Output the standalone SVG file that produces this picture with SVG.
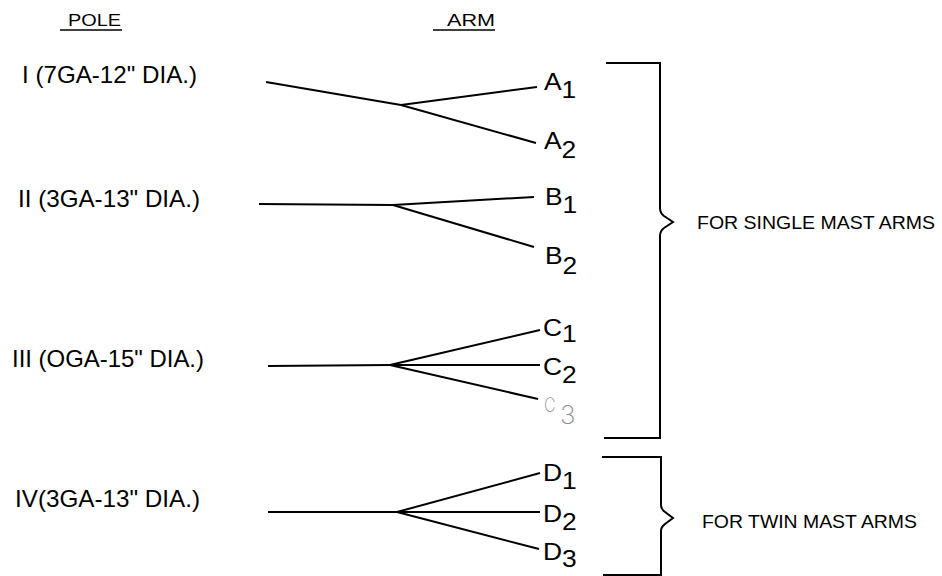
<svg xmlns="http://www.w3.org/2000/svg" width="942" height="576" viewBox="0 0 942 576">
<style>
.t{font-family:"Liberation Sans",Arial,sans-serif;fill:#000}
.h{font-size:16.5px}
.p{font-size:24px}
.a{font-size:24px}
.n{font-size:18px}
.ln{stroke:#000;stroke-width:2;fill:none;stroke-linecap:butt}
.g{font-family:Inter,"Liberation Sans",sans-serif;font-weight:200;fill:#8c8c8c}
</style>
<rect width="942" height="576" fill="#fff"/>
<g id="headers">
<text class="t h" x="68" y="26" textLength="53" lengthAdjust="spacingAndGlyphs">POLE</text>
<line class="ln" x1="60" y1="30" x2="122" y2="30" style="stroke-width:1.5"/>
<text class="t h" x="447" y="26" textLength="48" lengthAdjust="spacingAndGlyphs">ARM</text>
<line class="ln" x1="433" y1="30" x2="495" y2="30" style="stroke-width:1.5"/>
</g>
<g id="pole-I"><text class="t p" x="22" y="83" textLength="175" lengthAdjust="spacingAndGlyphs">I (7GA-12" DIA.)</text></g>
<g id="pole-II"><text class="t p" x="18" y="207" textLength="182" lengthAdjust="spacingAndGlyphs">II (3GA-13" DIA.)</text></g>
<g id="pole-III"><text class="t p" x="12" y="367" textLength="192" lengthAdjust="spacingAndGlyphs">III (OGA-15" DIA.)</text></g>
<g id="pole-IV"><text class="t p" x="15" y="507" textLength="185" lengthAdjust="spacingAndGlyphs">IV(3GA-13" DIA.)</text></g>
<g id="arm-A1"><text class="t a" transform="translate(544,90) scale(1.1,1)">A<tspan dy="8">1</tspan></text></g>
<g id="arm-A2"><text class="t a" transform="translate(544,149) scale(1.1,1)">A<tspan dy="9">2</tspan></text></g>
<g id="arm-B1"><text class="t a" transform="translate(545,205) scale(1.1,1)">B<tspan dy="8">1</tspan></text></g>
<g id="arm-B2"><text class="t a" transform="translate(545,264) scale(1.1,1)">B<tspan dy="10">2</tspan></text></g>
<g id="arm-C1"><text class="t a" transform="translate(543,336) scale(1.1,1)">C<tspan dy="6">1</tspan></text></g>
<g id="arm-C2"><text class="t a" transform="translate(543,375) scale(1.1,1)">C<tspan dy="8">2</tspan></text></g>
<g id="arm-C3"><text class="g" font-size="20" transform="translate(544,412) scale(0.8,1)">C</text><text class="g" font-size="26" transform="translate(560,424)">3</text></g>
<g id="arm-D1"><text class="t a" transform="translate(543,481) scale(1.1,1)">D<tspan dy="8">1</tspan></text></g>
<g id="arm-D2"><text class="t a" transform="translate(543,522) scale(1.1,1)">D<tspan dy="8">2</tspan></text></g>
<g id="arm-D3"><text class="t a" transform="translate(543,560) scale(1.1,1)">D<tspan dy="7">3</tspan></text></g>
<g id="bracket-single">
<path class="ln" d="M606,63 H660 V208 Q660,213 664,216 L673,222 L664,228 Q660,231 660,236 V438 H604"/>
<text class="t n" x="697" y="229" textLength="238" lengthAdjust="spacingAndGlyphs">FOR SINGLE MAST ARMS</text>
</g>
<g id="bracket-twin">
<path class="ln" d="M602,457 H661 V505 Q661,509 665,512 L673,518 L665,524 Q661,527 661,531 V575 H603"/>
<text class="t n" x="702" y="528" textLength="215" lengthAdjust="spacingAndGlyphs">FOR TWIN MAST ARMS</text>
</g>
<g id="connectors" class="ln">
<line x1="266" y1="82" x2="401" y2="105"/>
<line x1="401" y1="105" x2="537" y2="87"/>
<line x1="401" y1="105" x2="536" y2="143"/>
<line x1="259" y1="204" x2="393" y2="205"/>
<line x1="393" y1="205" x2="534" y2="197"/>
<line x1="393" y1="205" x2="534" y2="247"/>
<line x1="268" y1="366" x2="390" y2="365"/>
<line x1="390" y1="365" x2="540" y2="330"/>
<line x1="390" y1="365" x2="540" y2="365"/>
<line x1="390" y1="365" x2="538" y2="399"/>
<line x1="268" y1="512" x2="397" y2="512"/>
<line x1="397" y1="512" x2="540" y2="473"/>
<line x1="397" y1="512" x2="540" y2="512"/>
<line x1="397" y1="512" x2="539" y2="549"/>
</g>
</svg>
